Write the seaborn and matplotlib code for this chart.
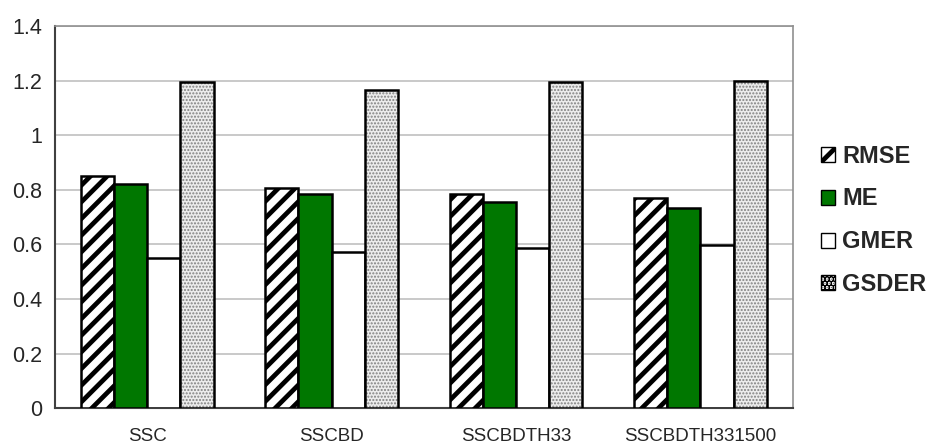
import matplotlib
matplotlib.use("Agg")
import matplotlib.pyplot as plt
import seaborn as sns
import pandas as pd
import numpy as np
from matplotlib.patches import Patch

categories = ["SSC", "SSCBD", "SSCBDTH33", "SSCBDTH331500"]
series = ["RMSE", "ME", "GMER", "GSDER"]
rmse = [0.85, 0.806, 0.784, 0.77]
me = [0.82, 0.784, 0.755, 0.733]
gmer = [0.55, 0.572, 0.586, 0.597]
gsder = [1.195, 1.165, 1.195, 1.2]
y_ticks = [0, 0.2, 0.4, 0.6, 0.8, 1, 1.2, 1.4]
y_tick_labels = ["0", "0.2", "0.4", "0.6", "0.8", "1", "1.2", "1.4"]

df = pd.DataFrame({
    "cat": categories * 4,
    "series": [s for s in series for _ in categories],
    "value": rmse + me + gmer + gsder,
})

sns.set_style("white")
plt.rcParams["font.family"] = ["Liberation Sans", "DejaVu Sans"]
plt.rcParams["hatch.linewidth"] = 3.4

fig = plt.figure(figsize=(9.36, 4.48), dpi=100)
ax = fig.add_axes([0.0588, 0.089, 0.788, 0.853])

face = {"RMSE": "white", "ME": "#007700", "GMER": "white", "GSDER": "#ececec"}
sns.barplot(data=df, x="cat", y="value", hue="series", order=categories,
            hue_order=series, palette=face, width=0.72, saturation=1,
            edgecolor="black", linewidth=1.8, legend=False, ax=ax, zorder=3)

hatches = {"RMSE": "//", "ME": None, "GMER": None, "GSDER": "....."}
for cont, s in zip(ax.containers, series):
    for p in cont:
        if hatches[s]:
            p.set_hatch(hatches[s])
        if s == "GSDER":
            p._hatch_color = (0.5, 0.5, 0.5, 1)
            try:
                p._hatch_linewidth = 1.0
            except Exception:
                pass

ax.set_ylim(0, 1.4)
ax.set_xlim(-0.5, 3.5)
ax.set_yticks(y_ticks)
ax.set_yticklabels(y_tick_labels, fontsize=15.5)
ax.yaxis.grid(True, color="#c0c0c0", linewidth=1.2, zorder=0)
ax.set_axisbelow(True)
ax.set_xlabel("")
ax.set_ylabel("")

ax.set_xticks(range(len(categories)))
ax.set_xticklabels(categories, fontsize=13.5)
ax.set_xticks([-0.5, 0.5, 1.5, 2.5, 3.5], minor=True)
ax.tick_params(axis="x", which="major", length=0, pad=14)
ax.tick_params(axis="x", which="minor", length=6, width=1, color="#404040", direction="out")
ax.tick_params(axis="y", length=5, width=1, color="#404040", direction="out", pad=4)

for sp in ["top", "right"]:
    ax.spines[sp].set_color("#909090")
    ax.spines[sp].set_linewidth(1.2)
ax.spines["left"].set_color("#404040")
ax.spines["left"].set_linewidth(1.5)
ax.spines["bottom"].set_color("#404040")
ax.spines["bottom"].set_linewidth(1.5)

handles = []
for s in series:
    h = Patch(facecolor=face[s], edgecolor="black", linewidth=1.0,
              hatch=hatches[s] if s != "GSDER" else "....", label=s)
    handles.append(h)
leg = fig.legend(handles=handles, loc="center left", bbox_to_anchor=(0.877, 0.508),
                 frameon=False, prop={"weight": "bold", "size": 17},
                 handlelength=0.6, handleheight=0.6, handletextpad=0.3,
                 labelspacing=0.84, borderpad=0, borderaxespad=0)

fig.savefig("out.png", dpi=100)
